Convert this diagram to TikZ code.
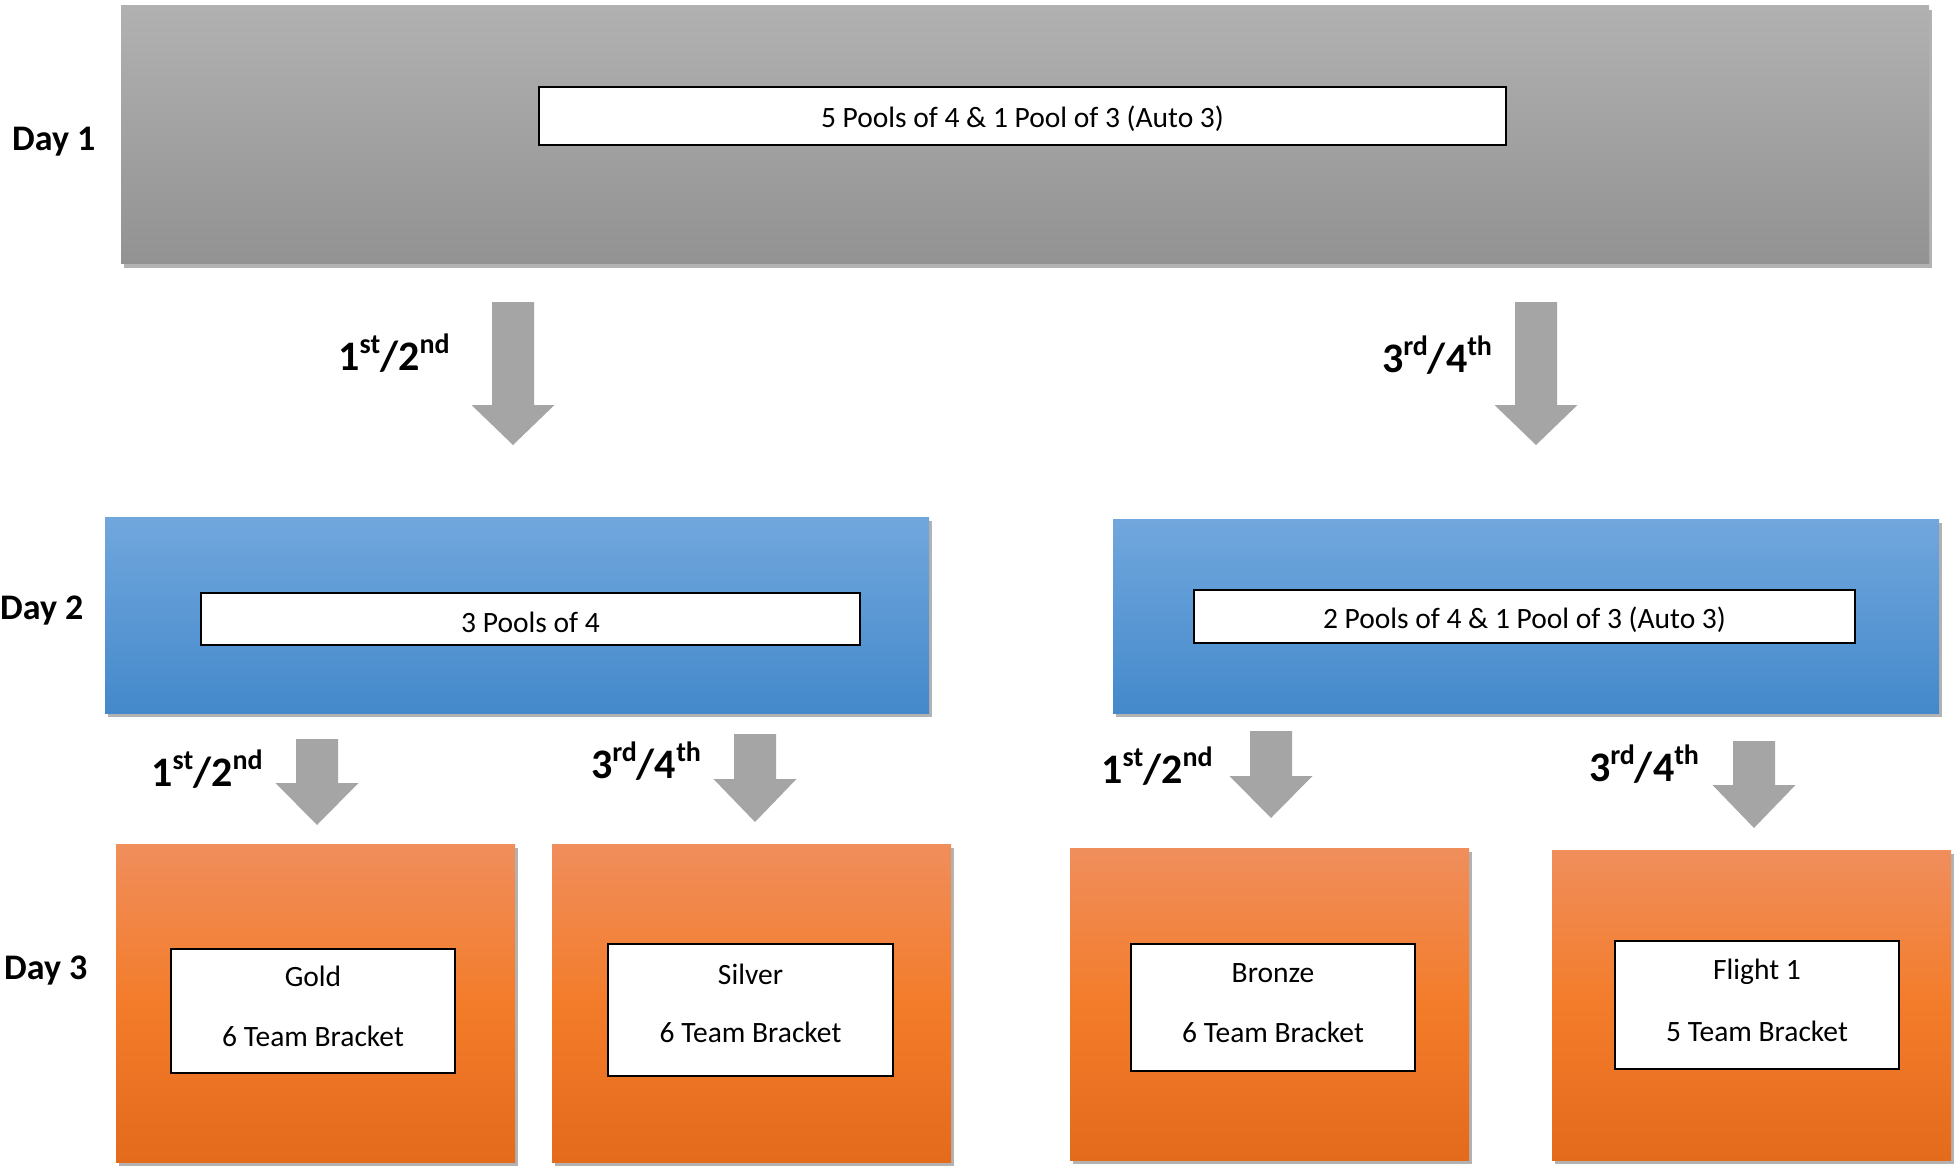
\documentclass[tikz,border=0pt]{standalone}
\usepackage{fontspec}
\setmainfont{Carlito}
\usetikzlibrary{shadows}
\definecolor{grayT}{RGB}{177,177,177}
\definecolor{grayB}{RGB}{146,146,146}
\definecolor{blueT}{RGB}{113,167,221}
\definecolor{blueB}{RGB}{68,137,203}
\definecolor{oranT}{RGB}{240,142,92}
\definecolor{oranM}{RGB}{243,124,42}
\definecolor{oranB}{RGB}{228,106,28}
\definecolor{arrgray}{RGB}{165,165,165}
\newcommand\supx[1]{\raisebox{0.42em}{\fontsize{28}{28}\selectfont #1}}
\newcommand\blockarrow[5]{%
  \fill[arrgray] (#2-21,#3) -- (#2+21,#3) -- (#2+21,#4) -- (#2+41.5,#4) -- (#2,#5) -- (#2-41.5,#4) -- (#2-21,#4) -- cycle;
  \coordinate (#1) at (#2,#5);}
\tikzset{
  boxshadow/.style={drop shadow={shadow xshift=3pt,shadow yshift=-4pt,opacity=.3,fill=black}},
  graybox/.style={rectangle,draw=none,top color=grayT,bottom color=grayB,boxshadow,inner sep=0pt},
  bluebox/.style={rectangle,draw=none,top color=blueT,bottom color=blueB,boxshadow,inner sep=0pt},
  orangebox/.style={rectangle,draw=none,top color=oranT,bottom color=oranB,middle color=oranM,boxshadow,inner sep=0pt},
  inbox/.style={rectangle,draw=black,line width=2pt,fill=white,inner sep=0pt},
  boxtext/.style={font=\fontsize{29.5}{35}\selectfont,inner sep=0pt},
  daylabel/.style={font=\bfseries\fontsize{36}{40}\selectfont,anchor=west,inner sep=0pt},
  rank/.style={font=\bfseries\fontsize{42}{44}\selectfont,inner sep=0pt}
}
\begin{document}
\begin{tikzpicture}[x=1pt,y=-1pt]
\useasboundingbox[fill=white] (0,0) rectangle (1955,1169);
% Day 1
\node[graybox,minimum width=1808,minimum height=258] (d1) at (1025,135) {};
\node[inbox,minimum width=967,minimum height=58] (d1in) at (1022.5,116) {};
\node[boxtext] (d1t) at (1022.5,119) {5 Pools of 4 \& 1 Pool of 3 (Auto 3)};
\node[daylabel] (day1) at (12,142) {Day 1};
% top arrows
\blockarrow{a1}{513}{302}{405}{445}
\blockarrow{a2}{1536}{302}{405}{445}
\node[rank] (r1) at (394,353) {1\supx{st}/2\supx{nd}};
\node[rank] (r2) at (1437,355) {3\supx{rd}/4\supx{th}};
% Day 2
\node[bluebox,minimum width=824,minimum height=196] (d2l) at (517,615) {};
\node[inbox,minimum width=659,minimum height=52] (d2lin) at (530.5,619) {};
\node[boxtext] (d2lt) at (530.5,622) {3 Pools of 4};
\node[bluebox,minimum width=826,minimum height=194] (d2r) at (1526,616) {};
\node[inbox,minimum width=661,minimum height=53] (d2rin) at (1524.5,616.5) {};
\node[boxtext] (d2rt) at (1524.5,620) {2 Pools of 4 \& 1 Pool of 3 (Auto 3)};
\node[daylabel] (day2) at (0,611) {Day 2};
% small arrows
\blockarrow{b1}{317}{739}{783}{825}
\blockarrow{b2}{755}{734}{779}{822}
\blockarrow{b3}{1271}{731}{776}{818}
\blockarrow{b4}{1754}{741}{785}{828}
\node[rank] (r3) at (207,769) {1\supx{st}/2\supx{nd}};
\node[rank] (r4) at (646,761) {3\supx{rd}/4\supx{th}};
\node[rank] (r5) at (1157,766) {1\supx{st}/2\supx{nd}};
\node[rank] (r6) at (1644,764) {3\supx{rd}/4\supx{th}};
% Day 3
\node[orangebox,minimum width=399,minimum height=318] (o1) at (315.5,1003) {};
\node[orangebox,minimum width=399,minimum height=318] (o2) at (751.5,1003) {};
\node[orangebox,minimum width=399,minimum height=312] (o3) at (1269.5,1004) {};
\node[orangebox,minimum width=399,minimum height=310] (o4) at (1751.5,1005) {};
\node[inbox,minimum width=284,minimum height=124] (i1) at (313,1011) {};
\node[inbox,minimum width=285,minimum height=132] (i2) at (750.5,1010) {};
\node[inbox,minimum width=284,minimum height=127] (i3) at (1273,1007.5) {};
\node[inbox,minimum width=284,minimum height=128] (i4) at (1757,1005) {};
\node[boxtext] (t1a) at (313,976) {Gold};
\node[boxtext] (t1b) at (313,1036) {6 Team Bracket};
\node[boxtext] (t2a) at (750.5,974) {Silver};
\node[boxtext] (t2b) at (750.5,1032) {6 Team Bracket};
\node[boxtext] (t3a) at (1273,973) {Bronze};
\node[boxtext] (t3b) at (1273,1032) {6 Team Bracket};
\node[boxtext] (t4a) at (1757,972) {Flight 1};
\node[boxtext] (t4b) at (1757,1031) {5 Team Bracket};
\node[daylabel] (day3) at (4,971) {Day 3};
\end{tikzpicture}
\end{document}
